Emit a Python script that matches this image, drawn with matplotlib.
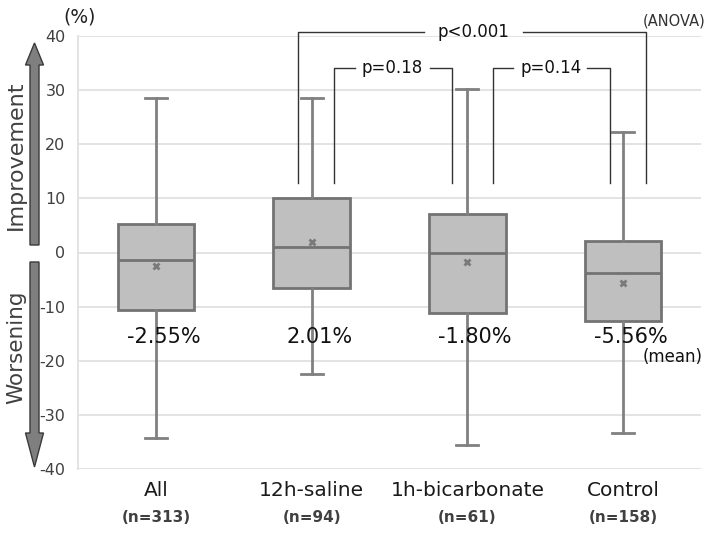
import numpy as np
import matplotlib
matplotlib.use("Agg")
import matplotlib.pyplot as plt
from matplotlib.patches import Polygon
import matplotlib.transforms as mtransforms

plt.rcParams["axes.unicode_minus"] = False

# dados (variacao %, box plot)
groups = ["All", "12h-saline", "1h-bicarbonate", "Control"]
n_labels = ["(n=313)", "(n=94)", "(n=61)", "(n=158)"]
whislo = [-34.3, -22.5, -35.6, -33.3]
q1 = [-10.6, -6.6, -11.2, -12.7]
med = [-1.3, 1.1, 0.0, -3.7]
q3 = [5.3, 10.1, 7.2, 2.1]
whishi = [28.5, 28.5, 30.2, 22.3]
means = [-2.55, 2.01, -1.80, -5.56]

W, H = 709, 536
fig = plt.figure(figsize=(W/100, H/100), dpi=100)
ax = fig.add_axes([78/W, 1-469/H, 623/W, 433/H])

stats = [dict(label=g, whislo=a, q1=b, med=c, q3=d, whishi=e, mean=m, fliers=[])
         for g, a, b, c, d, e, m in zip(groups, whislo, q1, med, q3, whishi, means)]
pos = np.arange(len(groups))
ax.bxp(stats, positions=pos, widths=0.49, showmeans=True, patch_artist=True,
       showfliers=False,
       boxprops=dict(facecolor="#bfbfbf", edgecolor="#737373", linewidth=2.0),
       medianprops=dict(color="#737373", linewidth=2.0),
       whiskerprops=dict(color="#808080", linewidth=2.0),
       capprops=dict(color="#808080", linewidth=2.0), capwidths=0.14,
       meanprops=dict(marker="x", markeredgecolor="#7a7a7a", markersize=5,
                      markeredgewidth=2.0))

ax.set_xlim(-0.5, 3.5)
ax.set_ylim(-40, 40)
ax.set_yticks(np.arange(-40, 41, 10))
ax.tick_params(axis="y", length=0, pad=9, labelsize=11.5, labelcolor="#404040")
ax.set_xticks([])
ax.grid(axis="y", color="#e0e0e0", linewidth=1.3)
ax.set_axisbelow(True)
for s in ["top", "right", "bottom"]:
    ax.spines[s].set_visible(False)
ax.spines["left"].set_color("#e0e0e0")
ax.spines["left"].set_linewidth(1.3)

# rotulos das categorias e n
tr = mtransforms.blended_transform_factory(ax.transData, ax.transAxes)
for i, (g, n) in enumerate(zip(groups, n_labels)):
    ax.text(i, -0.049, g, transform=tr, ha="center", va="center",
            fontsize=14.5, color="#1a1a1a")
    ax.text(i, -0.113, n, transform=tr, ha="center", va="center",
            fontsize=11, fontweight="bold", color="#404040")

# medias em texto
for i, m in enumerate(means):
    ax.text(i + 0.05, -15.6, f"{m:.2f}%", ha="center", va="center",
            fontsize=15, color="#111111")
ax.text(3.32, -19.3, "(mean)", ha="center", va="center", fontsize=12,
        color="#111111", clip_on=False)

# colchetes de significancia
bk = dict(color="#333333", linewidth=1.0, clip_on=False)
ax.plot([0.912, 0.912, 1.72], [12.9, 40.75, 40.75], **bk)
ax.plot([2.36, 3.145, 3.145], [40.75, 40.75, 12.9], **bk)
ax.text(2.04, 40.75, "p<0.001", ha="center", va="center", fontsize=12, color="#111111")
ax.plot([1.142, 1.142, 1.28], [12.9, 34.1, 34.1], **bk)
ax.plot([1.76, 1.903, 1.903], [34.1, 34.1, 12.9], **bk)
ax.text(1.52, 34.1, "p=0.18", ha="center", va="center", fontsize=12, color="#111111")
ax.plot([2.163, 2.163, 2.29], [12.9, 34.1, 34.1], **bk)
ax.plot([2.77, 2.916, 2.916], [34.1, 34.1, 12.9], **bk)
ax.text(2.54, 34.1, "p=0.14", ha="center", va="center", fontsize=12, color="#111111")
ax.text(3.33, 42.8, "(ANOVA)", ha="center", va="center", fontsize=10.5,
        color="#333333", clip_on=False)

fig.text(80/W, 1-17/H, "(%)", ha="center", va="center", fontsize=13.5, color="#222222")

# setas laterais (coordenadas em pixels da figura)
def px(x, y):
    return (x/W, 1-y/H)

def seta(x, y_base, y_head, y_tip, shaft=9, head=18):
    hs, hh = shaft/2, head/2
    pts = [px(x-hs, y_base), px(x-hs, y_head), px(x-hh, y_head), px(x, y_tip),
           px(x+hh, y_head), px(x+hs, y_head), px(x+hs, y_base)]
    fig.add_artist(Polygon(pts, closed=True, transform=fig.transFigure,
                           facecolor="#7f7f7f", edgecolor="#3a3a3a", linewidth=1.0))

seta(34.5, 245, 65, 43)
seta(34.5, 262, 433, 467)
fig.text(16/W, 1-155/H, "Improvement", rotation=90, ha="center", va="center",
         fontsize=16, color="#404040")
fig.text(16/W, 1-347/H, "Worsening", rotation=90, ha="center", va="center",
         fontsize=15.5, color="#404040")

fig.savefig("out.png", dpi=100)
